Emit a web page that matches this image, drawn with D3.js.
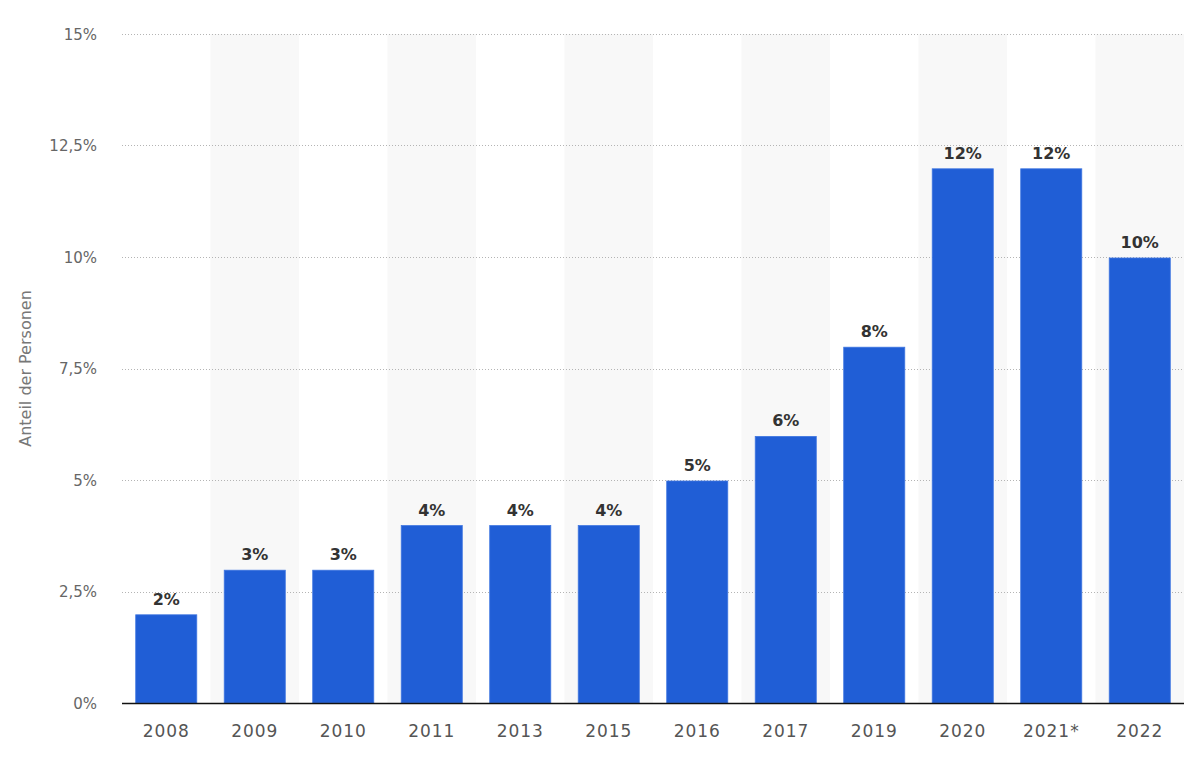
<!DOCTYPE html>
<html><head><meta charset="utf-8">
<script src="https://cdn.jsdelivr.net/npm/d3@7"></script>
<style>body{margin:0;background:#fff;}svg{display:block;}</style>
</head><body>
<svg id="chart" width="1200" height="769"></svg>
<script>
const categories = ["2008","2009","2010","2011","2013","2015","2016","2017","2019","2020","2021*","2022"];
const values = [2,3,3,4,4,4,5,6,8,12,12,10];
const yTicks = [0,2.5,5,7.5,10,12.5,15];
const yTitle = "Anteil der Personen";

const svg = d3.select("#chart");
const m = {left:122, right:16, top:34, bottom:66};
const W = 1200, H = 769;
const x = d3.scaleBand().domain(categories).range([m.left, W - m.right]).paddingInner(0.31).paddingOuter(0.155);
const xb = d3.scaleBand().domain(categories).range([m.left, W - m.right]).padding(0);
const y = d3.scaleLinear().domain([0,15]).range([H - m.bottom, m.top]);
const font = "'DejaVu Sans', sans-serif";
const fmt = v => String(v).replace(".", ",") + "%";

// alternating shading
svg.append("g").selectAll("rect").data(categories.filter((d,i)=>i%2===1)).join("rect")
  .attr("x", d=>xb(d)).attr("width", xb.bandwidth())
  .attr("y", y(15)).attr("height", y(0)-y(15)).attr("fill", "#f8f8f8");

// grid
svg.append("g").selectAll("line").data(yTicks.filter(t=>t>0)).join("line")
  .attr("x1", m.left).attr("x2", W - m.right)
  .attr("y1", d=>Math.round(y(d))+0.5).attr("y2", d=>Math.round(y(d))+0.5)
  .attr("stroke", "#b4b4b4").attr("stroke-width", 1).attr("stroke-dasharray", "1,2");

// y tick labels
const yAxis = d3.axisLeft(y).tickValues(yTicks).tickFormat(fmt).tickSize(0).tickPadding(0);
const ga = svg.append("g").attr("transform", `translate(97,0)`).call(yAxis);
ga.select(".domain").remove();
ga.selectAll("text").attr("font-family", font).attr("font-size", 15).attr("fill", "#666").attr("dy","0.35em");

// bars
svg.append("g").selectAll("rect").data(values).join("rect")
  .attr("x", (d,i)=>x(categories[i])).attr("width", x.bandwidth())
  .attr("y", d=>y(d)+1).attr("height", d=>y(0)-y(d)-1)
  .attr("fill", "#205ed6").attr("stroke", "#3f76e0").attr("stroke-width", 0.8);

// value labels
svg.append("g").selectAll("text").data(values).join("text")
  .attr("x", (d,i)=>x(categories[i]) + x.bandwidth()/2)
  .attr("y", d=>y(d) - 9)
  .attr("text-anchor", "middle").attr("font-family", font).attr("font-weight", "bold")
  .attr("font-size", 16).attr("fill", "#333").text(d=>d + "%");

// x axis
const xAxis = d3.axisBottom(x).tickSize(0).tickPadding(0);
const gx = svg.append("g").attr("transform", `translate(0,${y(0)})`).call(xAxis);
gx.select(".domain").remove();
gx.selectAll("text").attr("font-family", font).attr("font-size", 17).attr("fill", "#555")
  .attr("letter-spacing", "1px").attr("dy", "0").attr("y", 34);
svg.append("line").attr("x1", m.left).attr("x2", W - m.right)
  .attr("y1", y(0)+0.5).attr("y2", y(0)+0.5).attr("stroke", "#111").attr("stroke-width", 1.5);

// y title
svg.append("text").attr("transform", `translate(31,${(y(0)+y(15))/2}) rotate(-90)`)
  .attr("text-anchor", "middle").attr("font-family", font).attr("font-size", 16).attr("fill", "#777")
  .text(yTitle);
</script>
</body></html>
